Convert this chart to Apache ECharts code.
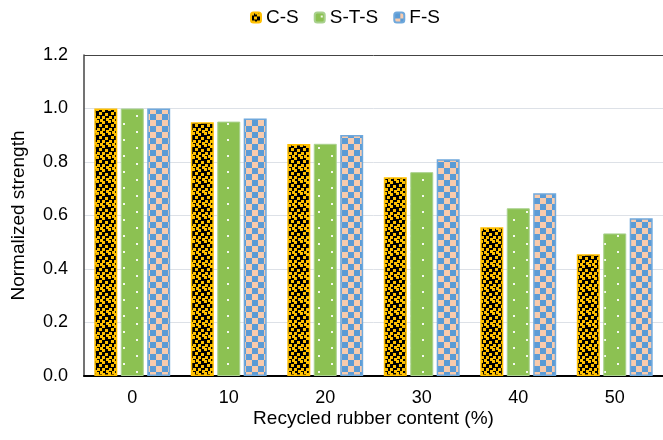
<!DOCTYPE html>
<html>
<head>
<meta charset="utf-8">
<script src="https://cdn.jsdelivr.net/npm/echarts@6/dist/echarts.min.js"></script>
<style>
  html, body { margin: 0; padding: 0; background: #fff; }
  #chart { width: 663px; height: 440px; }
</style>
</head>
<body>
<div id="chart"></div>
<script>
// Recycled rubber content categories (%)
const categories = ['0', '10', '20', '30', '40', '50'];
// Normalized strength per specimen type
const seriesNames = ['C-S', 'S-T-S', 'F-S'];
const csValues  = [1.0, 0.949, 0.867, 0.743, 0.556, 0.455];
const stsValues = [1.0, 0.951, 0.868, 0.762, 0.627, 0.533];
const fsValues  = [1.0, 0.963, 0.901, 0.810, 0.683, 0.590];
const yTicks = [0, 0.2, 0.4, 0.6, 0.8, 1.0, 1.2];

// Small tiles used as repeating fills
function makeTile(w, h, draw) {
  const c = document.createElement('canvas');
  c.width = w; c.height = h;
  draw(c.getContext('2d'));
  return c;
}
const speckleTile = makeTile(12, 12, ctx => {
  ctx.fillStyle = '#000';
  ctx.fillRect(0, 0, 12, 12);
  ctx.fillStyle = '#FFC000';
  [[0,0],[6,1],[3,4],[9,5],[1,8],[6,8],[10,10],[4,11]].forEach(([x, y]) => {
    ctx.fillRect(x, y, 3, 3);
    if (x > 9) ctx.fillRect(x - 12, y, 3, 3);
    if (y > 9) ctx.fillRect(x, y - 12, 3, 3);
  });
});
const dotTile = makeTile(26, 16, ctx => {
  ctx.fillStyle = '#8CC152';
  ctx.fillRect(0, 0, 26, 16);
  ctx.fillStyle = 'rgba(255,255,255,0.9)';
  ctx.fillRect(6, 3, 2, 2);
  ctx.fillRect(19, 11, 2, 2);
});
const checkTile = makeTile(12, 12, ctx => {
  ctx.fillStyle = '#F8CBAD';
  ctx.fillRect(0, 0, 12, 12);
  ctx.fillStyle = '#5B9BD5';
  ctx.fillRect(0, 0, 6, 6);
  ctx.fillRect(6, 6, 6, 6);
});

const font = 'Liberation Sans, Arial, sans-serif';
const chart = echarts.init(document.getElementById('chart'), null, { renderer: 'canvas' });

function bar(name, data, tile, border, bw) {
  return {
    name, type: 'bar', data,
    barWidth: 23, barGap: '15%',
    itemStyle: {
      color: { image: tile, repeat: 'repeat' },
      borderColor: border, borderWidth: bw
    },
    emphasis: { disabled: true },
    animation: false
  };
}

chart.setOption({
  animation: false,
  backgroundColor: '#fff',
  legend: {
    top: 3, left: 245,
    itemWidth: 10, itemHeight: 10, itemGap: 15,
    textStyle: { fontFamily: font, fontSize: 19, color: '#000' },
    data: seriesNames
  },
  grid: { left: 84, top: 55, width: 584, height: 321 },
  xAxis: {
    type: 'category', data: categories,
    name: 'Recycled rubber content (%)', nameLocation: 'middle', nameGap: 33,
    nameMoveOverlap: false,
    nameTextStyle: { fontFamily: font, fontSize: 19, color: '#000' },
    axisLine: { lineStyle: { color: '#000', width: 2 } },
    axisTick: { show: false },
    axisLabel: { fontFamily: font, fontSize: 18, color: '#000', margin: 13 }
  },
  yAxis: {
    type: 'value', min: yTicks[0], max: yTicks[yTicks.length - 1], interval: 0.2,
    name: 'Normalized strength', nameLocation: 'middle', nameGap: 56,
    nameMoveOverlap: false,
    nameTextStyle: { fontFamily: font, fontSize: 19, color: '#000' },
    axisLine: { show: true, lineStyle: { color: '#444', width: 1.5 } },
    axisTick: { show: false },
    axisLabel: { fontFamily: font, fontSize: 18, color: '#000', margin: 16,
      formatter: v => v.toFixed(1) },
    splitLine: { lineStyle: { color: ['#DDE1E7','#DDE1E7','#DDE1E7','#DDE1E7','#DDE1E7','#DDE1E7','#444'], width: 1 } }
  },
  series: [
    bar(seriesNames[0], csValues, speckleTile, '#FFC000', 1.5),
    bar(seriesNames[1], stsValues, dotTile, '#A9D18E', 1),
    bar(seriesNames[2], fsValues, checkTile, '#6FA8DC', 1.5)
  ]
});
</script>
</body>
</html>
